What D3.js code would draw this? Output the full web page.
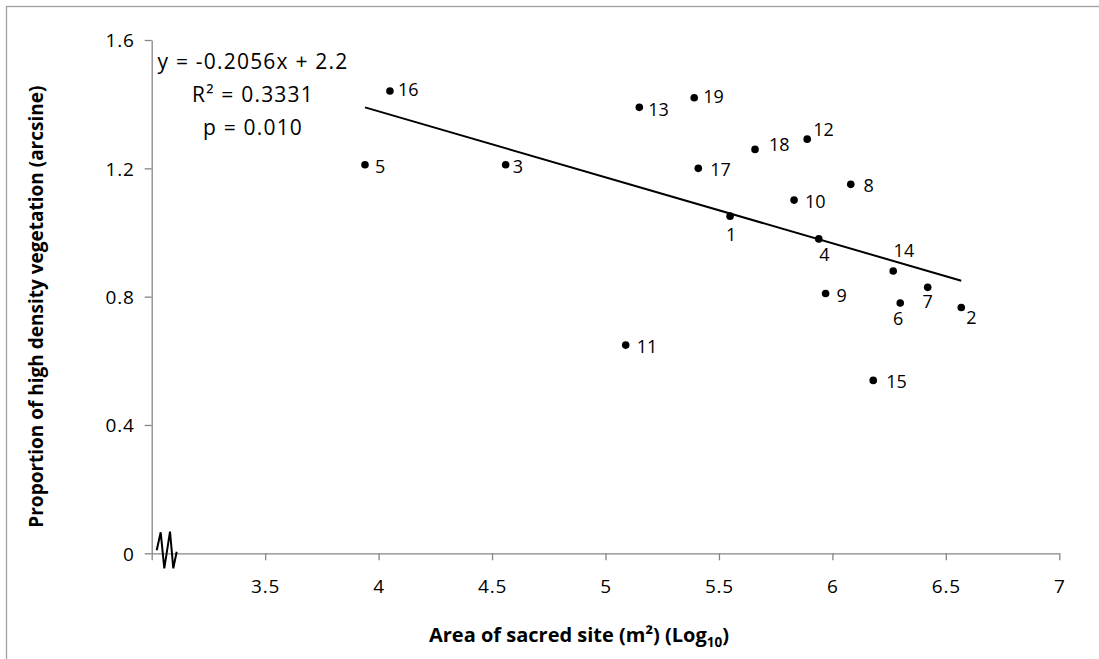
<!DOCTYPE html>
<html>
<head>
<meta charset="utf-8">
<script src="https://cdn.jsdelivr.net/npm/d3@7"></script>
<style>
  html, body { margin: 0; padding: 0; background: #fff; }
  svg { display: block; }
  text { font-family: "Open Sans", "Noto Sans", sans-serif; fill: #000; }
</style>
</head>
<body>
<svg id="chart" width="1099" height="659"></svg>
<script>
// Sacred sites: log10 area against arcsine proportion of high density vegetation
const siteIds   = [1, 2, 3, 4, 5, 6, 7, 8, 9, 10, 11, 12, 13, 14, 15, 16, 17, 18, 19];
const logArea   = [5.549, 6.568, 4.560, 5.940, 3.940, 6.299, 6.420, 6.081, 5.970, 5.831,
                   5.089, 5.889, 5.149, 6.268, 6.180, 4.050, 5.409, 5.659, 5.391];
const vegArcsin = [1.051, 0.766, 1.211, 0.980, 1.211, 0.780, 0.829, 1.150, 0.810, 1.101,
                   0.649, 1.291, 1.390, 0.880, 0.539, 1.441, 1.200, 1.259, 1.420];

// Fitted regression
const fitSlope = -0.2056;
const fitIntercept = 2.2;
const fitLines = ["y = -0.2056x + 2.2", "R² = 0.3331", "p = 0.010"];

const xTicks = [3, 3.5, 4, 4.5, 5, 5.5, 6, 6.5, 7];
const xTickLabels = ["", "3.5", "4", "4.5", "5", "5.5", "6", "6.5", "7"];
const yTicks = [0, 0.4, 0.8, 1.2, 1.6];
const yTickLabels = ["0", "0.4", "0.8", "1.2", "1.6"];

// label placement around each dot: [anchor, dx, dy]
const labelPlacement = {
  1: ["middle", 1, 18], 2: ["start", 5, 9.6], 3: ["start", 7, 1.7], 4: ["middle", 5.6, 15.3],
  5: ["start", 10, 1.7], 6: ["middle", -2, 15.3], 7: ["middle", 0, 14.4], 8: ["start", 12.6, 1.4],
  9: ["start", 11, 2], 10: ["start", 11, 1.7], 11: ["start", 11, 1.7], 12: ["start", 6, -9.3],
  13: ["start", 9, 1.7], 14: ["middle", 10.7, -20.3], 15: ["start", 13, 1.4], 16: ["start", 8, -1],
  17: ["start", 12, 1], 18: ["start", 14, -5], 19: ["start", 9, -1]
};

const svg = d3.select("#chart");
const axisColor = "#868686";

// outer frame
svg.append("rect")
  .attr("x", 6.5).attr("y", 6.5).attr("width", 1110).attr("height", 670)
  .attr("fill", "none").attr("stroke", "#a0a0a0").attr("stroke-width", 1.3);

const x = d3.scaleLinear().domain([3, 7]).range([151.7, 1059.3]);
const y = d3.scaleLinear().domain([0, 1.6]).range([553.3, 40]);

// x axis
const xAxis = svg.append("g").attr("transform", `translate(0,${y(0)})`)
  .call(d3.axisBottom(x).tickValues(xTicks).tickSize(7).tickSizeOuter(0)
    .tickFormat((d, i) => xTickLabels[i]));
// y axis
const yAxis = svg.append("g").attr("transform", `translate(${x(3)},0)`)
  .call(d3.axisLeft(y).tickValues(yTicks).tickSize(7).tickSizeOuter(0)
    .tickFormat((d, i) => yTickLabels[i]));

[xAxis, yAxis].forEach(g => {
  g.select(".domain").attr("stroke", axisColor).attr("stroke-width", 1.3);
  g.selectAll(".tick line").attr("stroke", axisColor).attr("stroke-width", 1.3);
  g.selectAll(".tick text").attr("font-size", 19).attr("letter-spacing", 0.8)
    .attr("font-family", "'Open Sans', sans-serif").attr("fill", "#000");
});
xAxis.selectAll(".tick text").attr("y", 0).attr("dy", 0)
  .attr("transform", "translate(0,40)");
yAxis.selectAll(".tick text").attr("x", -17).attr("dy", "0.36em");

// axis break on the x axis near the origin
const bx = x(3.0);
const by = y(0);
const breakPts = [[5, -3], [9, -21], [12.6, 15], [18.3, -21.6], [21.6, 15], [25, -1.6]];
svg.append("path")
  .attr("d", d3.line()(breakPts.map(p => [bx + p[0], by + p[1]])))
  .attr("fill", "none").attr("stroke", "#000").attr("stroke-width", 2);

// regression line across the observed range
const xMin = d3.min(logArea), xMax = d3.max(logArea);
svg.append("line")
  .attr("x1", x(xMin)).attr("y1", y(fitSlope * xMin + fitIntercept))
  .attr("x2", x(xMax)).attr("y2", y(fitSlope * xMax + fitIntercept))
  .attr("stroke", "#000").attr("stroke-width", 2);

// points
const pts = siteIds.map((id, i) => ({ id, lx: logArea[i], v: vegArcsin[i] }));
svg.append("g").selectAll("circle").data(pts).join("circle")
  .attr("cx", d => x(d.lx)).attr("cy", d => y(d.v)).attr("r", 3.8).attr("fill", "#000");

svg.append("g").selectAll("text").data(pts).join("text")
  .attr("x", d => x(d.lx) + labelPlacement[d.id][1])
  .attr("y", d => y(d.v) + labelPlacement[d.id][2])
  .attr("dy", "0.36em")
  .attr("text-anchor", d => labelPlacement[d.id][0])
  .attr("font-size", 18)
  .text(d => d.id);

// equation block
svg.append("g").selectAll("text").data(fitLines).join("text")
  .attr("x", 253).attr("y", (d, i) => 69 + i * 33)
  .attr("text-anchor", "middle").attr("font-size", 21).attr("letter-spacing", 1.2)
  .text(d => d);

// axis titles
const xt = svg.append("text").attr("x", 579).attr("y", 642)
  .attr("text-anchor", "middle").attr("font-size", 20).attr("font-weight", "bold");
xt.append("tspan").text("Area of sacred site (m²) (Log");
xt.append("tspan").attr("font-size", 13.5).attr("dy", 5).text("10");
xt.append("tspan").attr("dy", -5).text(")");

svg.append("text")
  .attr("transform", `translate(43,${y(0.8) + 10}) rotate(-90)`)
  .attr("text-anchor", "middle").attr("font-size", 19).attr("font-weight", "bold")
  .text("Proportion of high density vegetation (arcsine)");
</script>
</body>
</html>
